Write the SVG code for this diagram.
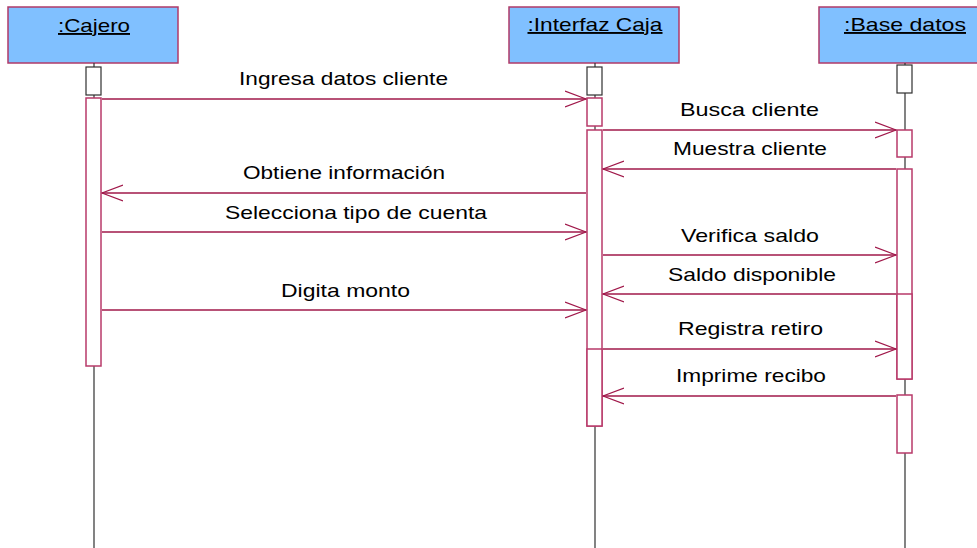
<svg xmlns="http://www.w3.org/2000/svg" width="977" height="548" viewBox="0 0 977 548">
<style>
.obj{fill:#80C0FF;stroke:#B03A68;stroke-width:1.5}
.name{font-family:"Liberation Sans",Arial,sans-serif;font-size:19px;fill:#000;text-decoration:underline;text-anchor:middle}
.life{stroke:#303030;stroke-width:1.2;fill:none}
.top{fill:#fff;stroke:#303030;stroke-width:1.2}
.act{fill:#fff;stroke:#B83A6A;stroke-width:1.5}
.msg{stroke:#A0184A;stroke-width:1.3;fill:none}
.lbl{font-family:"Liberation Sans",Arial,sans-serif;font-size:19px;fill:#000;text-anchor:middle}
</style>
<defs>
<marker id="ah" viewBox="0 0 22 18" refX="21" refY="9" markerWidth="22" markerHeight="18" markerUnits="userSpaceOnUse" orient="auto">
<path d="M0,1 L21,9 L0,17" fill="none" stroke="#A0184A" stroke-width="1.3"/>
</marker>
</defs>
<rect width="977" height="548" fill="#fff"/>
<g id="cajero">
<rect class="obj" x="8" y="7" width="170" height="56"/>
<text class="name" x="94" y="32" textLength="72" lengthAdjust="spacingAndGlyphs">:Cajero</text>
<line class="life" x1="94" y1="63" x2="94" y2="548"/>
<rect class="top" x="86" y="67" width="15" height="28"/>
<rect class="act" x="86" y="98" width="15" height="268"/>
</g>
<g id="interfaz">
<rect class="obj" x="509" y="7" width="170" height="56"/>
<text class="name" x="595" y="31" textLength="135" lengthAdjust="spacingAndGlyphs">:Interfaz Caja</text>
<line class="life" x1="595" y1="63" x2="595" y2="548"/>
<rect class="top" x="587" y="67" width="15" height="28"/>
<rect class="act" x="587" y="98" width="15" height="28"/>
<rect class="act" x="587" y="130" width="15" height="296"/>
<rect class="act" x="587" y="349" width="15" height="77"/>
</g>
<g id="basedatos">
<rect class="obj" x="819" y="7" width="160" height="56"/>
<text class="name" x="905" y="31" textLength="122" lengthAdjust="spacingAndGlyphs">:Base datos</text>
<line class="life" x1="905" y1="63" x2="905" y2="548"/>
<rect class="top" x="897" y="65" width="15" height="28"/>
<rect class="act" x="897" y="130" width="15" height="27"/>
<rect class="act" x="897" y="169" width="15" height="210"/>
<rect class="act" x="897" y="294" width="15" height="85"/>
<rect class="act" x="897" y="395" width="15" height="58"/>
</g>
<g id="connectors">
<line class="msg" x1="102" y1="99" x2="586" y2="99" marker-end="url(#ah)"/>
<text class="lbl" x="343.5" y="85" textLength="209" lengthAdjust="spacingAndGlyphs">Ingresa datos cliente</text>
<line class="msg" x1="603" y1="130" x2="896" y2="130" marker-end="url(#ah)"/>
<text class="lbl" x="749.5" y="116" textLength="139" lengthAdjust="spacingAndGlyphs">Busca cliente</text>
<line class="msg" x1="896" y1="169" x2="603" y2="169" marker-end="url(#ah)"/>
<text class="lbl" x="750" y="155" textLength="154" lengthAdjust="spacingAndGlyphs">Muestra cliente</text>
<line class="msg" x1="586" y1="193" x2="102" y2="193" marker-end="url(#ah)"/>
<text class="lbl" x="344" y="179" textLength="202" lengthAdjust="spacingAndGlyphs">Obtiene información</text>
<line class="msg" x1="102" y1="232" x2="586" y2="232" marker-end="url(#ah)"/>
<text class="lbl" x="356" y="219" textLength="262" lengthAdjust="spacingAndGlyphs">Selecciona tipo de cuenta</text>
<line class="msg" x1="603" y1="255" x2="896" y2="255" marker-end="url(#ah)"/>
<text class="lbl" x="750" y="242" textLength="138" lengthAdjust="spacingAndGlyphs">Verifica saldo</text>
<line class="msg" x1="896" y1="294" x2="603" y2="294" marker-end="url(#ah)"/>
<text class="lbl" x="752" y="281" textLength="168" lengthAdjust="spacingAndGlyphs">Saldo disponible</text>
<line class="msg" x1="102" y1="310" x2="586" y2="310" marker-end="url(#ah)"/>
<text class="lbl" x="345.5" y="297" textLength="129" lengthAdjust="spacingAndGlyphs">Digita monto</text>
<line class="msg" x1="603" y1="349" x2="896" y2="349" marker-end="url(#ah)"/>
<text class="lbl" x="750.5" y="335" textLength="145" lengthAdjust="spacingAndGlyphs">Registra retiro</text>
<line class="msg" x1="896" y1="396" x2="603" y2="396" marker-end="url(#ah)"/>
<text class="lbl" x="751" y="382" textLength="150" lengthAdjust="spacingAndGlyphs">Imprime recibo</text>
</g>
</svg>
